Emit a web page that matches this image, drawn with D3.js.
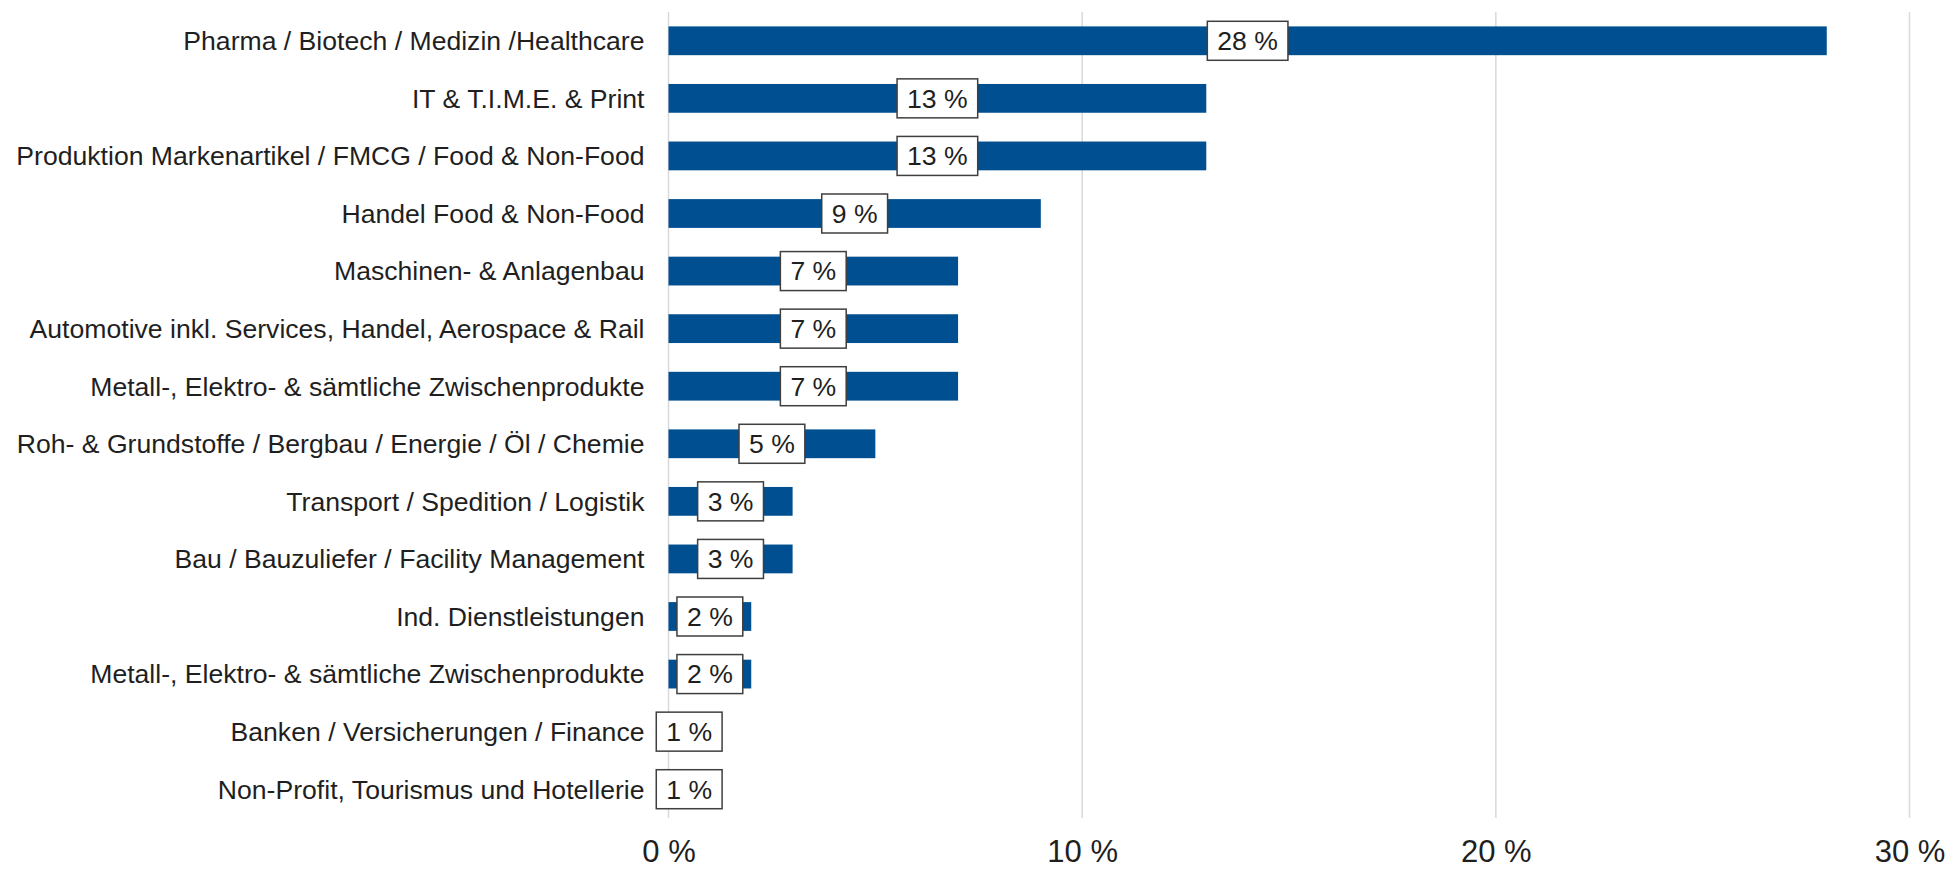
<!DOCTYPE html>
<html>
<head>
<meta charset="utf-8">
<script src="https://cdn.jsdelivr.net/npm/d3@7"></script>
<style>
  body { margin: 0; background: #fff; }
  text { font-family: "Liberation Sans", Arial, sans-serif; fill: #1f1f1f; }
</style>
</head>
<body>
<svg id="chart" width="1949" height="869"></svg>
<script>
// branches, top to bottom
var categories = [
  "Pharma / Biotech / Medizin /Healthcare",
  "IT & T.I.M.E. & Print",
  "Produktion Markenartikel / FMCG / Food & Non-Food",
  "Handel Food & Non-Food",
  "Maschinen- & Anlagenbau",
  "Automotive inkl. Services, Handel, Aerospace & Rail",
  "Metall-, Elektro- & sämtliche Zwischenprodukte",
  "Roh- & Grundstoffe / Bergbau / Energie / Öl / Chemie",
  "Transport / Spedition / Logistik",
  "Bau / Bauzuliefer / Facility Management",
  "Ind. Dienstleistungen",
  "Metall-, Elektro- & sämtliche Zwischenprodukte ",
  "Banken / Versicherungen / Finance",
  "Non-Profit, Tourismus und Hotellerie"
];
var shares = [28, 13, 13, 9, 7, 7, 7, 5, 3, 3, 2, 2, 1, 1];
var xTicks = [0, 10, 20, 30];

var svg = d3.select("#chart");

var x = d3.scaleLinear().domain([0, 30]).range([668.5, 1909.5]);
var y = d3.scaleBand().domain(categories).range([12, 818])
          .paddingInner(0.5).paddingOuter(0.25);

// grid lines
svg.append("g")
   .selectAll("line")
   .data(xTicks)
   .enter().append("line")
   .attr("x1", function(d){ return x(d); })
   .attr("x2", function(d){ return x(d); })
   .attr("y1", 12)
   .attr("y2", 818)
   .attr("stroke", "#d9d9d9")
   .attr("stroke-width", 1.5);

// x axis labels
var xAxis = svg.append("g")
   .attr("transform", "translate(0,818)")
   .call(d3.axisBottom(x).tickValues(xTicks).tickSize(0).tickFormat(function(d){ return d + " %"; }));
xAxis.select(".domain").remove();
xAxis.selectAll("text")
     .attr("y", 44)
     .attr("dy", 0)
     .style("font-size", "31px")
     .style("font-family", "'Liberation Sans', Arial, sans-serif")
     .attr("fill", "#1f1f1f");

// category labels
var yAxis = svg.append("g")
   .attr("transform", "translate(" + x(0) + ",0)")
   .call(d3.axisLeft(y).tickSize(0).tickPadding(24));
yAxis.select(".domain").remove();
yAxis.selectAll("text")
     .attr("dy", "0.35em")
     .style("font-size", "26.6px")
     .style("font-family", "'Liberation Sans', Arial, sans-serif")
     .attr("fill", "#1f1f1f");

// bars
svg.append("g")
   .selectAll("rect")
   .data(shares)
   .enter().append("rect")
   .attr("x", x(0))
   .attr("y", function(d, i){ return y(categories[i]); })
   .attr("width", function(d){ return x(d) - x(0); })
   .attr("height", y.bandwidth())
   .attr("fill", "#004f91");

// value boxes
var labels = svg.append("g")
   .selectAll("g")
   .data(shares)
   .enter().append("g")
   .attr("transform", function(d, i){
     return "translate(" + x(d / 2) + "," + (y(categories[i]) + y.bandwidth() / 2) + ")";
   });

labels.append("rect");
labels.append("text")
      .attr("text-anchor", "middle")
      .attr("dy", "0.35em")
      .style("font-size", "26.6px")
      .text(function(d){ return d + " %"; });

labels.each(function(){
  var g = d3.select(this);
  var w = g.select("text").node().getComputedTextLength() + 20;
  g.select("rect")
   .attr("x", -w / 2)
   .attr("y", -19.5)
   .attr("width", w)
   .attr("height", 39)
   .attr("fill", "#fff")
   .attr("stroke", "#3f3f3f")
   .attr("stroke-width", 1.5);
});
</script>
</body>
</html>
